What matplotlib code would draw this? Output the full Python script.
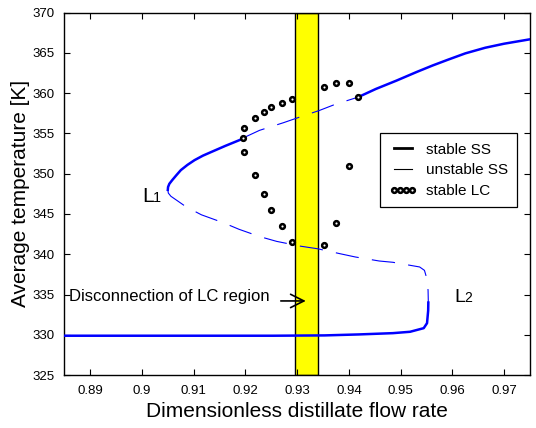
import matplotlib
matplotlib.use('Agg')
import matplotlib.pyplot as plt
from matplotlib.lines import Line2D
from matplotlib.patches import Rectangle

plt.rcParams['font.family'] = ['Liberation Sans', 'DejaVu Sans']

# upper stable branch, from L1 to the Hopf point
up1_x = [0.9050, 0.90505, 0.90530, 0.90587, 0.90670, 0.90752, 0.90880, 0.91017, 0.91180,
         0.91347, 0.91612, 0.91909, 0.91955]
up1_T = [348.0, 348.35, 348.75, 349.22, 349.85, 350.45, 351.10, 351.69, 352.25,
         352.72, 353.46, 354.24, 354.44]

# unstable part of the upper branch
up_un_x = [0.91955, 0.92273, 0.92736, 0.93100, 0.93430, 0.93727, 0.94177]
up_un_T = [354.44, 355.39, 356.34, 357.15, 357.86, 358.60, 359.51]

# upper stable branch after the second Hopf point
up2_x = [0.94177, 0.94521, 0.94917, 0.95314, 0.95620, 0.95909, 0.96250, 0.96636, 0.9700, 0.9752]
up2_T = [359.51, 360.53, 361.56, 362.65, 363.45, 364.15, 364.95, 365.65, 366.15, 366.72]

# middle (unstable) branch from L1 to L2
mid_x = [0.9050, 0.90510, 0.90560, 0.90686, 0.90851, 0.91149, 0.91579, 0.91876, 0.92273, 0.92603,
         0.93066, 0.93397, 0.93826, 0.94124, 0.94587, 0.94851, 0.95367, 0.9546, 0.9551,
         0.95530, 0.95535]
mid_T = [348.0, 347.6, 347.2, 346.64, 345.9, 344.9, 343.9, 343.1, 342.2, 341.6,
         341.0, 340.68, 340.07, 339.66, 339.16, 339.0, 338.42, 338.0, 336.9,
         335.5, 334.0]

# lower stable branch from L2
low_x = [0.95535, 0.95532, 0.9551, 0.95446, 0.95182, 0.94851, 0.9419, 0.93529, 0.92537, 0.8849]
low_T = [334.0, 333.0, 331.44, 330.82, 330.37, 330.2, 330.04, 329.92, 329.88, 329.88]

# stable limit cycles (max / min temperature)
lc_x_max = [0.91955, 0.91982, 0.9218, 0.92352, 0.92491, 0.92702, 0.92894, 0.93516, 0.9376, 0.94005, 0.94177]
lc_T_max = [354.44, 355.72, 356.91, 357.7, 358.27, 358.77, 359.26, 360.74, 361.32, 361.32, 359.51]
lc_x_min = [0.91982, 0.9218, 0.92352, 0.92491, 0.92702, 0.92894, 0.93516, 0.9376, 0.94005]
lc_T_min = [352.72, 349.84, 347.45, 345.49, 343.48, 341.55, 341.14, 343.89, 350.99]

band = [0.9295, 0.9341]

fig = plt.figure(figsize=(5.36, 4.28), dpi=100)
ax = fig.add_axes([0.12, 0.1238, 0.8688, 0.8465])

ax.add_patch(Rectangle((band[0], 325), band[1] - band[0], 45, facecolor='#ffff00',
                       edgecolor='black', linewidth=1.0, zorder=1))

stable_kw = dict(color='#0000ff', linewidth=1.8, zorder=3)
unstable_kw = dict(color='#0000ff', linewidth=0.8, linestyle=(0, (21, 12)), zorder=3)
ax.plot(up1_x, up1_T, **stable_kw)
ax.plot(up2_x, up2_T, **stable_kw)
ax.plot(low_x, low_T, **stable_kw)
ax.plot(up_un_x, up_un_T, **unstable_kw)
ax.plot(mid_x, mid_T, **unstable_kw)

lc_kw = dict(linestyle='none', marker='o', markersize=3.4, markeredgewidth=1.8,
             markerfacecolor='white', markeredgecolor='black', zorder=4)
ax.plot(lc_x_max, lc_T_max, **lc_kw)
ax.plot(lc_x_min, lc_T_min, **lc_kw)

# labels of the turning points
ax.text(0.9001, 346.45, 'L', fontsize=15, va='baseline', ha='left')
ax.annotate('1', xy=(0.9001, 346.45), xytext=(7.5, 0), textcoords='offset points',
            fontsize=10.5, va='baseline', ha='left')
ax.text(0.9604, 334.1, 'L', fontsize=14, va='baseline', ha='left')
ax.annotate('2', xy=(0.9604, 334.1), xytext=(7.0, 0), textcoords='offset points',
            fontsize=10, va='baseline', ha='left')

ax.text(0.886, 334.72, 'Disconnection of LC region', fontsize=12, va='center', ha='left')
ax.annotate('', xy=(0.9322, 334.2), xytext=(0.9263, 334.2),
            arrowprops=dict(arrowstyle='->', color='black', lw=1.2, mutation_scale=24))

ax.set_xlim(0.885, 0.975)
ax.set_ylim(325, 370)
ax.set_xticks([0.89, 0.9, 0.91, 0.92, 0.93, 0.94, 0.95, 0.96, 0.97])
ax.set_xticklabels(['0.89', '0.9', '0.91', '0.92', '0.93', '0.94', '0.95', '0.96', '0.97'])
ax.set_yticks(range(325, 371, 5))
ax.tick_params(direction='in', top=True, right=True, length=4, width=0.8,
               labelsize=9.5, pad=7)
for s in ax.spines.values():
    s.set_linewidth(1.0)

ax.set_xlabel('Dimensionless distillate flow rate', fontsize=15, labelpad=4)
ax.set_ylabel('Average temperature [K]', fontsize=15, labelpad=2)

handles = [
    Line2D([], [], color='black', linewidth=2.0),
    Line2D([], [], color='black', linewidth=0.8),
    Line2D([], [], linestyle='none', marker='o', markersize=3.4, markeredgewidth=1.8,
           markerfacecolor='white', markeredgecolor='black'),
]
leg = ax.legend(handles, ['stable SS', 'unstable SS', 'stable LC'], loc='upper left',
                bbox_to_anchor=(0.678, 0.667), borderaxespad=0, fontsize=11,
                numpoints=4, handlelength=1.8, handletextpad=0.6, labelspacing=0.45,
                borderpad=0.6, fancybox=False, framealpha=1, edgecolor='black')
leg.get_frame().set_linewidth(0.9)

fig.savefig('out.png', dpi=100)
